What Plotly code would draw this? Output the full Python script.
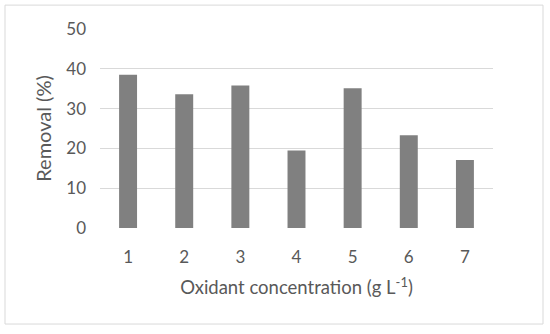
import plotly.graph_objects as go

categories = ["1", "2", "3", "4", "5", "6", "7"]
removal = [38.5, 33.6, 35.8, 19.5, 35.1, 23.3, 17.1]
y_ticks = [0, 10, 20, 30, 40, 50]

W, H = 550, 334
L, R, T, B = 100, 57, 28.5, 105.5
pw, ph = W - L - R, H - T - B

def px(x):
    return (x - L) / pw

def py(y):
    return (H - B - y) / ph

FONT = "Lato"
TXT = "#595959"

fig = go.Figure(go.Bar(x=categories, y=removal, marker=dict(color="#808080", line=dict(width=0))))

fig.update_layout(
    width=W, height=H,
    margin=dict(l=L, r=R, t=T, b=B, pad=0),
    plot_bgcolor="white", paper_bgcolor="white",
    bargap=0.68,
    showlegend=False,
    font=dict(family=FONT, color=TXT, size=17),
    xaxis=dict(
        type="category",
        showgrid=False, zeroline=False, showline=False,
        ticks="", ticklabelstandoff=17,
        tickfont=dict(size=17, color=TXT, family=FONT),
        title=dict(text="Oxidant concentration (g L<sup>-1</sup>)", font=dict(size=18.5, color=TXT, family=FONT), standoff=15),
    ),
    yaxis=dict(
        range=[0, 50], tickvals=y_ticks,
        showgrid=True, gridcolor="#d9d9d9", gridwidth=1.3,
        zeroline=False, showline=False,
        ticks="", ticklabelstandoff=13,
        tickfont=dict(size=17, color=TXT, family=FONT),
        title=dict(text="Removal (%)", font=dict(size=20, color=TXT, family=FONT), standoff=9),
    ),
    shapes=[dict(type="rect", xref="paper", yref="paper",
                 x0=px(5), x1=px(543), y0=py(325), y1=py(4.5),
                 line=dict(color="#d9d9d9", width=1), layer="below")],
)

fig.write_html("out.html", config={"displayModeBar": False},
               post_script="document.body.style.margin='0px';document.body.style.overflow='hidden';")
